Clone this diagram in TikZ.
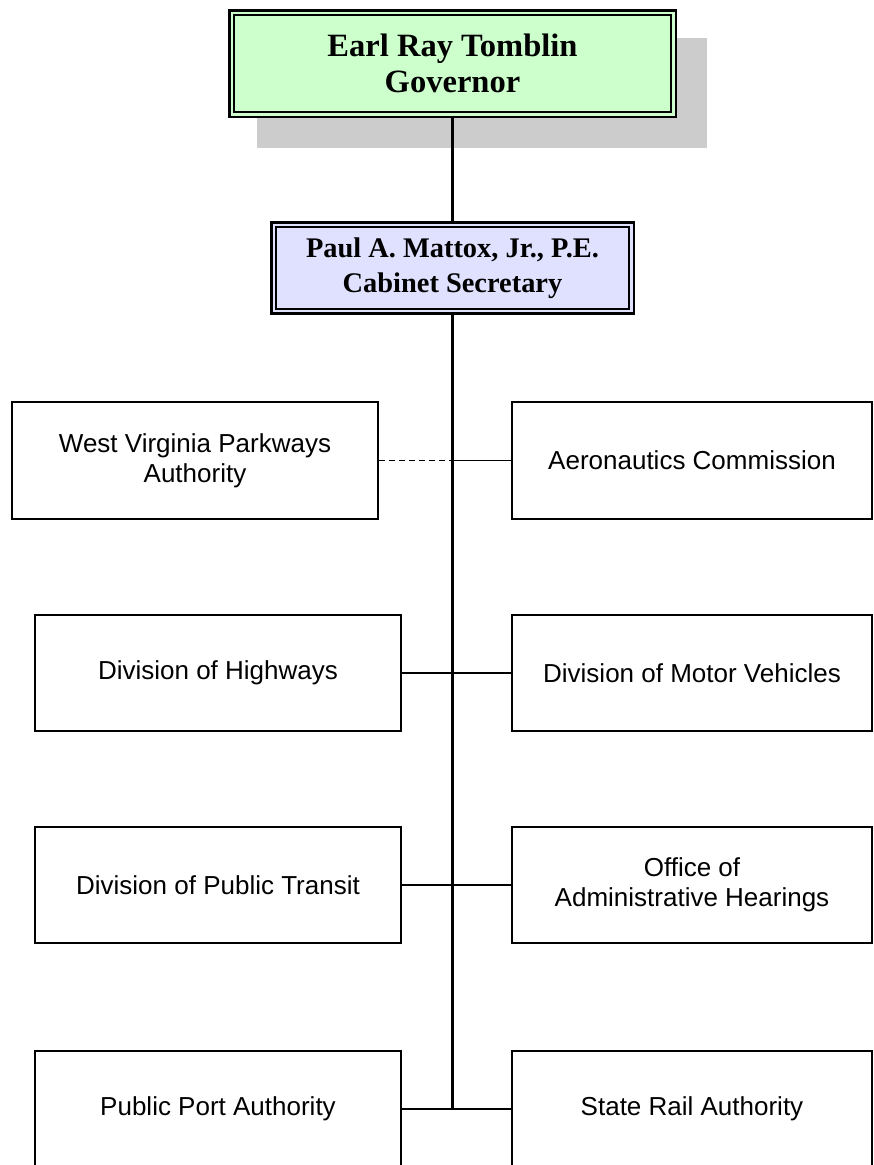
\documentclass[tikz,border=0pt]{standalone}
\usepackage{fontspec}
\setmainfont{Liberation Serif}
\setsansfont{Liberation Sans}
\definecolor{govgreen}{HTML}{CCFFCC}
\definecolor{secblue}{HTML}{E0E0FF}
\definecolor{shadowgray}{HTML}{CCCCCC}
\begin{document}
\begin{tikzpicture}[x=0.75pt,y=-0.75pt,
  headbox/.style={draw=black, line width=2pt, double distance=1.6pt, align=center, inner sep=0pt},
  govbox/.style={headbox, fill=govgreen, double=govgreen, minimum width=331.4pt, minimum height=76.4pt,
    font=\bfseries\fontsize{24.4}{27}\selectfont},
  secbox/.style={headbox, fill=secblue, double=secblue, minimum width=268.4pt, minimum height=65.1pt,
    font=\bfseries\fontsize{21.3}{26}\selectfont},
  unitbox/.style={draw=black, line width=1.5pt, fill=white, align=center, inner sep=0pt,
    minimum height=87.6pt, font=\sffamily\fontsize{19.5}{22.5}\selectfont},
  leftbox/.style={unitbox, minimum width=274.8pt},
  rightbox/.style={unitbox, minimum width=270.1pt},
  trunk/.style={draw=black, line width=2.3pt},
  link/.style={draw=black, line width=1.4pt},
  dotlink/.style={draw=black, line width=1.4pt, dash pattern=on 4.5pt off 3pt}
]
\useasboundingbox (0,0) rectangle (874,1165);
\clip (0,0) rectangle (874,1165);
\fill[white] (0,0) rectangle (874,1165);
% shadow of the governor box
\fill[shadowgray] (257,38) rectangle (707,148);

\node[govbox] (gov) at (452.5,63.5) {Earl Ray Tomblin\\Governor};
\node[secbox] (sec) at (452.5,268) {Paul A. Mattox, Jr., P.E.\\Cabinet Secretary};

\node[leftbox] (wvpa) at (195,460.5) {West Virginia Parkways\\Authority};
\node[rightbox] (aero) at (692,460.5) {Aeronautics Commission};
\node[leftbox] (doh) at (218,673) {Division of Highways};
\node[rightbox] (dmv) at (692,673) {Division of Motor Vehicles};
\node[leftbox] (dpt) at (218,885) {Division of Public Transit};
\node[rightbox] (oah) at (692,885) {Office of\\Administrative Hearings};
\node[leftbox] (ppa) at (218,1109) {Public Port Authority};
\node[rightbox] (sra) at (692,1109) {State Rail Authority};

\coordinate (j1) at (452.5,460.5);
\coordinate (jend) at (452.5,1109);

\draw[trunk] (gov.south) -- (sec.north);
\draw[trunk] (sec.south) -- (jend);
\draw[dotlink] (wvpa.east) -- (j1);
\draw[link] (j1) -- (aero.west);
\draw[link] (doh.east) -- (dmv.west);
\draw[link] (dpt.east) -- (oah.west);
\draw[link] (ppa.east) -- (sra.west);
\end{tikzpicture}
\end{document}
